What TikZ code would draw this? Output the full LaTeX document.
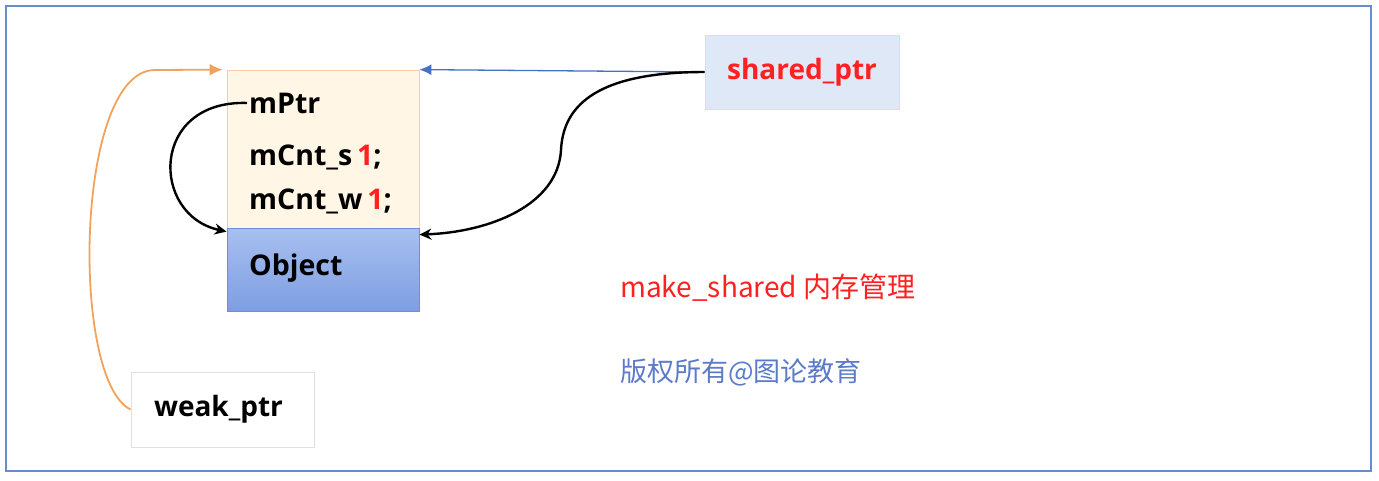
\documentclass[tikz,border=0pt]{standalone}
\usepackage{fontspec}
\setmainfont{Open Sans}
\newfontfamily\cjk{Noto Sans CJK SC}
\usetikzlibrary{arrows.meta}
\definecolor{frameblue}{HTML}{6A8CCB}
\definecolor{cbfill}{HTML}{FFF6E5}
\definecolor{cbdraw}{HTML}{F8CBAD}
\definecolor{objtop}{HTML}{A8C0F0}
\definecolor{objbot}{HTML}{7E9EE2}
\definecolor{objdraw}{HTML}{6E8FD6}
\definecolor{spfill}{HTML}{DFE8F6}
\definecolor{spdraw}{HTML}{FFE080}
\definecolor{wpdraw}{HTML}{E0E0E0}
\definecolor{txtred}{HTML}{FF2020}
\definecolor{lineblue}{HTML}{4472C4}
\definecolor{lineorange}{HTML}{F2A25A}
\definecolor{txtblue}{HTML}{5B7BC8}
\tikzset{
  box/.style={draw, line width=0.8pt, inner sep=0pt},
  lbl/.style={inner sep=0pt, anchor=base west, font=\bfseries\fontsize{28.5}{33}\selectfont},
  blk/.style={draw=black, line width=2.4pt, -{Stealth[length=12pt,width=11pt]}},
  bluearr/.style={draw=lineblue, line width=1.3pt, -{Latex[length=12pt,width=11pt]}},
  orarr/.style={draw=lineorange, line width=1.8pt, -{Latex[length=13pt,width=12pt]}},
}
\begin{document}
\begin{tikzpicture}[x=1pt,y=-1pt]
\useasboundingbox (0,0) rectangle (1379,480);
\draw[frameblue, line width=2.5pt] (6,6) rectangle (1371,471);

\node[box, draw=cbdraw, fill=cbfill, minimum width=192pt, minimum height=158pt] (cb) at (323,149) {};
\node[box, draw=objdraw, top color=objtop, bottom color=objbot, minimum width=192pt, minimum height=83pt] (obj) at (323,269.5) {};
\node[box, draw=spdraw, fill=spfill, minimum width=194pt, minimum height=74pt] (sp) at (802,72) {};
\node[box, draw=wpdraw, fill=white, minimum width=183pt, minimum height=75pt] (wp) at (222.5,409.5) {};

\node[lbl] (mptr) at (249,113) {mPtr};
\node[lbl] (mcs) at (249,165) {mCnt\_s\,\textcolor{txtred}{1};};
\node[lbl] (mcw) at (249,209) {mCnt\_w\,\textcolor{txtred}{1};};
\node[lbl] (objt) at (249,275) {Object};
\node[font=\bfseries\fontsize{28}{33}\selectfont, text=txtred, inner sep=0pt] (spt) at (sp.center) {shared\_ptr};
\node[font=\bfseries\fontsize{28}{33}\selectfont, inner sep=0pt] (wpt) at ([xshift=-4pt]wp.center) {weak\_ptr};

\node[inner sep=0pt, anchor=base west, font=\cjk\fontsize{28}{33}\selectfont, text=txtred] (ms) at (620,297) {make\_shared 内存管理};
\node[inner sep=0pt, anchor=base west, font=\cjk\fontsize{27}{32}\selectfont, text=txtblue] (cr) at (620,381) {版权所有@图论教育};

\draw[bluearr] (sp.west) -- (cb.north east);
\draw[blk] (sp.west) .. controls (590,72) and (563,110) .. (561,150) .. controls (558,205) and (490,232) .. ([yshift=-7pt]obj.north east);
\draw[blk] ([xshift=-2pt]mptr.west) .. controls (150,100) and (150,215) .. ([yshift=-4pt]obj.north west);
\draw[orarr, shorten >=4pt] (wp.west) .. controls (70,380) and (75,70) .. (155,70) -- (cb.north west);
\end{tikzpicture}
\end{document}
